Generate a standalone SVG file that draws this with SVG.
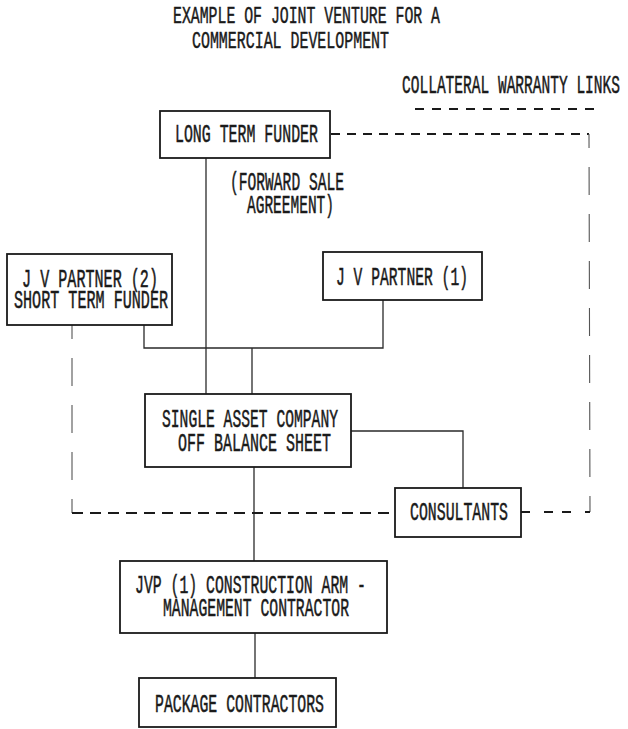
<svg xmlns="http://www.w3.org/2000/svg" width="628" height="729" viewBox="0 0 628 729">
<style>
.bg{fill:#ffffff}
.box{fill:#ffffff;stroke:#1a1a1a;stroke-width:1.8}
.t{font-family:"Liberation Mono","Courier New",monospace;font-size:14.7px;fill:#1a1a1a;stroke:#1a1a1a;stroke-width:0.3}
.title{font-family:"Liberation Mono","Courier New",monospace;font-size:14.7px;fill:#1a1a1a;stroke:#1a1a1a;stroke-width:0.3}
.ln{fill:none;stroke:#2a2a2a;stroke-width:1.3}
.dh{fill:none;stroke:#1a1a1a;stroke-width:1.8;stroke-dasharray:9 7}
.dv{fill:none;stroke:#555;stroke-width:1.1;stroke-dasharray:28 19}
</style>
<rect class="bg" x="0" y="0" width="628" height="729"/>
<g id="title">
<text class="title" transform="translate(173,23) scale(1,1.62)" textLength="267" lengthAdjust="spacingAndGlyphs">EXAMPLE OF JOINT VENTURE FOR A</text>
<text class="title" transform="translate(192,48) scale(1,1.62)" textLength="197" lengthAdjust="spacingAndGlyphs">COMMERCIAL DEVELOPMENT</text>
</g>
<g id="legend">
<text class="t" transform="translate(402,93) scale(1,1.7)" textLength="218" lengthAdjust="spacingAndGlyphs">COLLATERAL WARRANTY LINKS</text>
<line class="dh" x1="415" y1="109" x2="602" y2="109" style="stroke-dasharray:9 8"/>
</g>
<g id="connectors">
<line class="ln" x1="206" y1="158" x2="206" y2="394"/>
<polyline class="ln" points="144,325 144,348 383,348 383,300"/>
<line class="ln" x1="252" y1="348" x2="252" y2="394"/>
<polyline class="ln" points="351,431 463,431 463,488"/>
<line class="ln" x1="254" y1="467" x2="254" y2="561"/>
<line class="ln" x1="255" y1="633" x2="255" y2="678"/>
<line class="dh" x1="331" y1="134" x2="589" y2="134" style="stroke-dasharray:9 7"/>
<line class="dv" x1="589" y1="134" x2="590" y2="512" style="stroke-dashoffset:14"/>
<line class="dh" x1="521" y1="512" x2="590" y2="512" style="stroke-dasharray:9 14 9 9"/>
<line class="dv" x1="72" y1="325" x2="72" y2="513" style="stroke-dashoffset:14"/>
<line class="dh" x1="72" y1="513" x2="395" y2="513" style="stroke-dasharray:11 7"/>
</g>
<g id="long-term-funder">
<rect class="box" x="160" y="111" width="170" height="47"/>
<text class="t" transform="translate(175,142) scale(1,1.7)" textLength="143" lengthAdjust="spacingAndGlyphs">LONG TERM FUNDER</text>
</g>
<g id="forward-sale-label">
<text class="t" transform="translate(230,190) scale(1,1.7)" textLength="114" lengthAdjust="spacingAndGlyphs">(FORWARD SALE</text>
<text class="t" transform="translate(247,213) scale(1,1.7)" textLength="87" lengthAdjust="spacingAndGlyphs">AGREEMENT)</text>
</g>
<g id="jv-partner-2">
<rect class="box" x="7" y="254" width="165" height="71"/>
<text class="t" transform="translate(22,287) scale(1,1.7)" textLength="136" lengthAdjust="spacingAndGlyphs">J V PARTNER (2)</text>
<text class="t" transform="translate(14,308) scale(1,1.7)" textLength="154" lengthAdjust="spacingAndGlyphs">SHORT TERM FUNDER</text>
</g>
<g id="jv-partner-1">
<rect class="box" x="323" y="252" width="159" height="48"/>
<text class="t" transform="translate(336,285) scale(1,1.7)" textLength="132" lengthAdjust="spacingAndGlyphs">J V PARTNER (1)</text>
</g>
<g id="single-asset-company">
<rect class="box" x="145" y="394" width="206" height="73"/>
<text class="t" transform="translate(162,427) scale(1,1.7)" textLength="176" lengthAdjust="spacingAndGlyphs">SINGLE ASSET COMPANY</text>
<text class="t" transform="translate(178,451) scale(1,1.7)" textLength="153" lengthAdjust="spacingAndGlyphs">OFF BALANCE SHEET</text>
</g>
<g id="consultants">
<rect class="box" x="395" y="488" width="126" height="49"/>
<text class="t" transform="translate(410,520) scale(1,1.7)" textLength="98" lengthAdjust="spacingAndGlyphs">CONSULTANTS</text>
</g>
<g id="construction-arm">
<rect class="box" x="120" y="561" width="267" height="72"/>
<text class="t" transform="translate(135,593) scale(1,1.7)" textLength="231" lengthAdjust="spacingAndGlyphs">JVP (1) CONSTRUCTION ARM -</text>
<text class="t" transform="translate(163,616) scale(1,1.7)" textLength="186" lengthAdjust="spacingAndGlyphs">MANAGEMENT CONTRACTOR</text>
</g>
<g id="package-contractors">
<rect class="box" x="139" y="678" width="197" height="49"/>
<text class="t" transform="translate(155,712) scale(1,1.7)" textLength="169" lengthAdjust="spacingAndGlyphs">PACKAGE CONTRACTORS</text>
</g>
</svg>
